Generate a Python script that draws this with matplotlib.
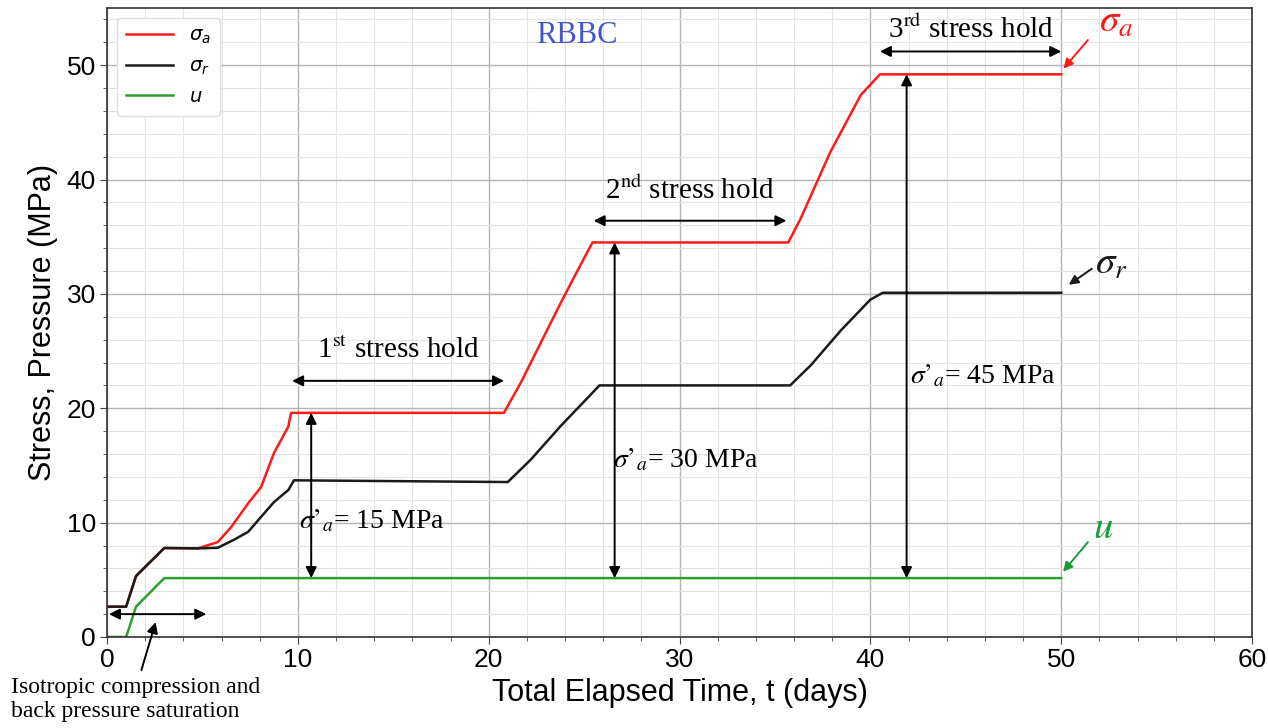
import numpy as np
import matplotlib
matplotlib.use("Agg")
import matplotlib.pyplot as plt
from matplotlib.ticker import MultipleLocator

# values (time in days, stress in MPa)
t_sa = [0, 1.0, 1.52, 3.0, 4.77, 5.8, 6.5, 7.4, 8.07, 8.75, 9.5, 9.64,
        20.8, 21.7, 23.8, 24.8, 25.44, 35.7, 36.35, 37.9, 39.5, 40.5, 50.0]
sa = [2.65, 2.65, 5.33, 7.78, 7.75, 8.3, 9.6, 11.7, 13.1, 16.1, 18.4, 19.6,
      19.6, 22.3, 29.3, 32.5, 34.5, 34.5, 36.6, 42.4, 47.4, 49.2, 49.2]

t_sr = [0, 1.0, 1.52, 3.0, 4.77, 5.8, 6.65, 7.4, 8.07, 8.75, 9.5, 9.8,
        21.0, 22.2, 23.8, 25.35, 25.8, 35.8, 36.9, 38.45, 40.0, 40.65, 50.0]
sr = [2.65, 2.65, 5.33, 7.78, 7.75, 7.8, 8.5, 9.2, 10.5, 11.8, 12.85, 13.7,
      13.55, 15.5, 18.5, 21.2, 22.0, 22.0, 23.8, 26.8, 29.5, 30.1, 30.1]

t_u = [0, 1.0, 1.52, 3.0, 50.0]
u = [0, 0, 2.65, 5.15, 5.15]

hold_start = [9.7, 25.5, 40.5]
hold_end = [20.8, 35.6, 50.0]
hold_y = [22.4, 36.4, 51.2]
hold_labels = ["1$^{\\rm st}$ stress hold", "2$^{\\rm nd}$ stress hold", "3$^{\\rm rd}$ stress hold"]
hold_text_y = [25.0, 39.0, 53.1]

eff_x = [10.7, 26.6, 41.9]
eff_top = [19.6, 34.5, 49.2]
eff_bottom = 5.15
eff_labels = ["15 MPa", "30 MPa", "45 MPa"]
eff_text_x = [10.05, 26.5, 42.1]
eff_text_y = [10.1, 15.5, 22.8]

plt.rcParams['font.family'] = ['Liberation Sans', 'DejaVu Sans']
serif = ['Liberation Serif', 'DejaVu Serif']

fig = plt.figure(figsize=(12.68, 7.28), dpi=100)
ax = fig.add_axes([0.0844, 0.125, 0.903, 0.864])

ax.plot(t_sa, sa, color='#ff1a1a', lw=1.8, label=r'$\sigma_a$')
ax.plot(t_sr, sr, color='#1a1a1a', lw=1.8, label=r'$\sigma_r$')
ax.plot(t_u, u, color='#2ca02c', lw=1.8, label=r'$u$')

ax.set_xlim(0, 60)
ax.set_ylim(0, 55)
ax.xaxis.set_major_locator(MultipleLocator(10))
ax.yaxis.set_major_locator(MultipleLocator(10))
ax.xaxis.set_minor_locator(MultipleLocator(2))
ax.yaxis.set_minor_locator(MultipleLocator(2))
ax.grid(which='major', color='#b4b4b4', lw=1.0)
ax.grid(which='minor', color='#e4e4e4', lw=0.8)
ax.set_axisbelow(True)
ax.tick_params(which='major', labelsize=19, length=5, color='#444444', pad=3)
ax.tick_params(which='minor', length=3, color='#444444')
for s in ax.spines.values():
    s.set_color('#333333')
    s.set_linewidth(1.2)

ax.set_xlabel('Total Elapsed Time, t (days)', fontsize=22, labelpad=4)
ax.set_ylabel('Stress, Pressure (MPa)', fontsize=22, labelpad=6)

leg = ax.legend(loc='upper left', fontsize=14, fancybox=True, framealpha=1,
                edgecolor='#dddddd', borderpad=0.5, handlelength=2.4, labelspacing=0.6)

ax.text(24.6, 52.6, 'RBBC', color='#4455cc', fontsize=22, family=serif,
        ha='center', va='center')

arrow = dict(arrowstyle='<|-|>', color='black', lw=1.4, mutation_scale=16, shrinkA=0, shrinkB=0)
for x0, x1, y, lab, ty in zip(hold_start, hold_end, hold_y, hold_labels, hold_text_y):
    ax.annotate('', xy=(x1, y), xytext=(x0, y), arrowprops=arrow)
    ax.text((x0 + x1) / 2, ty, lab, fontsize=21, family=serif, math_fontfamily='stix',
            ha='center', va='center')

for x, top, lab, tx, ty in zip(eff_x, eff_top, eff_labels, eff_text_x, eff_text_y):
    ax.annotate('', xy=(x, eff_bottom), xytext=(x, top), arrowprops=arrow)
    ax.text(tx, ty, r"$\sigma’_a$= " + lab, fontsize=20, family=serif, math_fontfamily='stix',
            ha='left', va='center')

# isotropic stage
ax.annotate('', xy=(5.2, 2.0), xytext=(0.1, 2.0), arrowprops=arrow)
ax.annotate('', xy=(2.55, 1.3), xytext=(1.8, -2.9), annotation_clip=False,
            arrowprops=dict(arrowstyle='-|>', color='black', lw=1.4, mutation_scale=16,
                            shrinkA=0, shrinkB=0))
fig.text(0.009, 0.039, 'Isotropic compression and\nback pressure saturation', fontsize=17,
         family=serif, ha='left', va='center', linespacing=1.2)

# curve labels
lab_txt = [r'$\sigma_a$', r'$\sigma_r$', r'$u$']
lab_col = ['#ff1a1a', '#1a1a1a', '#1a9a3a']
lab_pos = [(52.9, 53.8), (52.6, 32.6), (52.2, 9.5)]
arr_tail = [(51.4, 52.2), (51.6, 32.2), (51.4, 8.3)]
arr_tip = [(50.12, 49.7), (50.4, 30.8), (50.1, 5.7)]
for txt, c, p, a0, a1 in zip(lab_txt, lab_col, lab_pos, arr_tail, arr_tip):
    ax.text(p[0], p[1], txt, color=c, fontsize=28, math_fontfamily='stix',
            ha='center', va='center')
    ax.annotate('', xy=a1, xytext=a0,
                arrowprops=dict(arrowstyle='-|>', color=c, lw=1.4, mutation_scale=14,
                                shrinkA=0, shrinkB=0))

fig.savefig('out.png', dpi=100)
